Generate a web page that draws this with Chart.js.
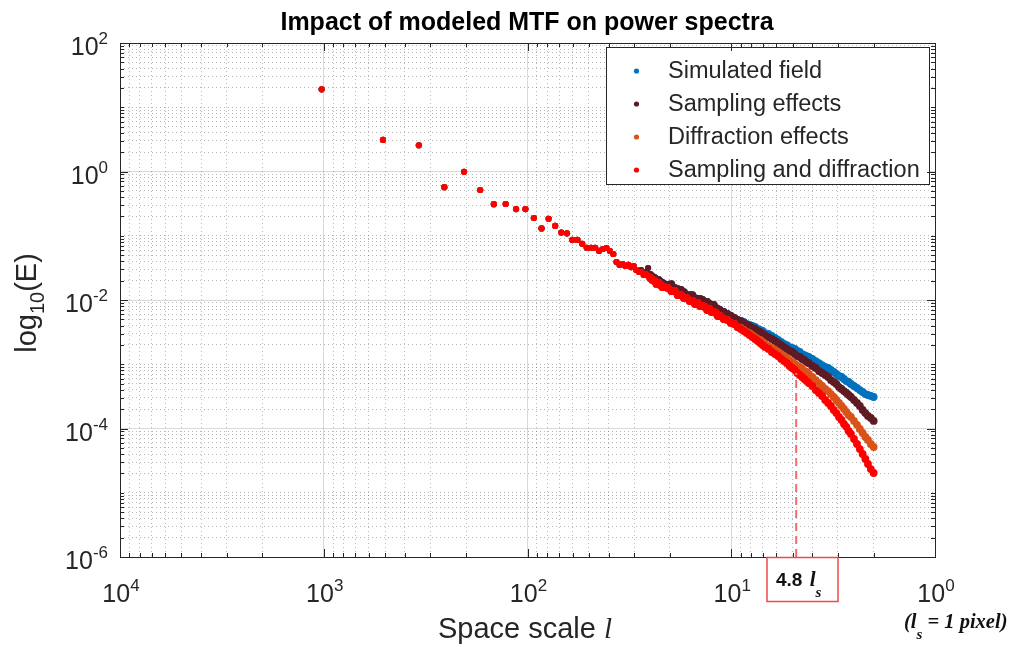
<!DOCTYPE html>
<html>
<head>
<meta charset="utf-8">
<script src="https://cdn.jsdelivr.net/npm/chart.js@4/dist/chart.umd.min.js"></script>
<style>
html,body{margin:0;padding:0;background:#ffffff;}
#wrap{width:1016px;height:647px;position:relative;}
</style>
</head>
<body>
<div id="wrap"><canvas id="c" width="1016" height="647"></canvas></div>
<script>
// ---------------- data ----------------
const chartTitle = 'Impact of modeled MTF on power spectra';
const seriesNames = ['Simulated field', 'Sampling effects', 'Diffraction effects', 'Sampling and diffraction'];
const seriesColors = ['#0072BD', '#5F1A24', '#D95319', '#FF0000'];

// space scale l (x values)
const spaceScale = [1024, 512, 341.3, 256, 204.8, 170.7, 146.3, 128, 113.8, 102.4,
  93.09, 85.33, 78.77, 73.14, 68.27, 64, 60.24, 56.89, 53.89, 51.2,
  48.76, 46.55, 44.52, 42.67, 40.96, 39.38, 37.93, 36.57, 35.31, 34.13,
  33.03, 32, 31.03, 30.12, 29.26, 28.44, 27.68, 26.95, 26.26, 25.6,
  24.98, 24.38, 23.81, 23.27, 22.76, 22.26, 21.79, 21.33,
  20.48, 19.69, 18.96, 18.29, 17.66, 17.07, 16.52, 16, 15.52, 15.06, 14.63, 14.22, 13.84, 13.47, 13.13, 12.8, 12.49, 12.19, 11.91, 11.64, 11.38,
  10.89, 10.45, 10.04, 9.66, 9.309, 8.982, 8.678, 8.393, 8.127, 7.877, 7.642, 7.42, 7.211, 7.014, 6.827,
  6.564, 6.321, 6.095, 5.885, 5.689, 5.505, 5.333, 5.172, 5.02, 4.876, 4.741, 4.613, 4.491, 4.376, 4.267, 4.163,
  4, 3.85, 3.71, 3.58, 3.459, 3.346, 3.241, 3.141, 3.048, 2.96, 2.876, 2.798, 2.723, 2.653, 2.586,
  2.498, 2.415, 2.338, 2.265, 2.197, 2.133, 2.065, 2];

// energy at large scales, identical for all four series
const sharedLargeScaleE = [19, 3.1, 2.56, 0.57, 0.99, 0.515, 0.31, 0.312, 0.26, 0.26,
  0.189, 0.13, 0.184, 0.142, 0.112, 0.109, 0.086, 0.086, 0.075, 0.065,
  0.065, 0.065, 0.058, 0.0622, 0.0645, 0.0579, 0.052, 0.039, 0.0351, 0.0363,
  0.0338, 0.0351, 0.0326, 0.0338, 0.0293];

const simulatedTail = [0.0283, 0.0293, 0.0263, 0.0273, 0.0315, 0.0245, 0.0228, 0.0220, 0.0205, 0.0205, 0.0191, 0.0184, 0.0177,
  0.0171, 0.0177, 0.0154, 0.0148, 0.0143, 0.0133, 0.0119, 0.0119, 0.0119, 0.0107, 0.0104, 0.0104, 0.0100, 0.00931, 0.00931, 0.00866, 0.00836, 0.00836, 0.00751, 0.00724, 0.00699,
  0.00651, 0.00606, 0.00564, 0.00525, 0.00488, 0.00471, 0.00455, 0.00423, 0.00408, 0.00394, 0.00380, 0.00354, 0.00341, 0.00329, 0.00306,
  0.00296, 0.00275, 0.00256, 0.00239, 0.00222, 0.00207, 0.00199, 0.00185, 0.00179, 0.00173, 0.00161, 0.00155, 0.00144, 0.00139, 0.00134, 0.00130,
  0.00121, 0.00112, 0.00104, 0.000970, 0.000906, 0.000874, 0.000814, 0.000757, 0.000705, 0.000656, 0.000633, 0.000589, 0.000548, 0.000529, 0.000493,
  0.000459, 0.000427, 0.000397, 0.000370, 0.000344, 0.000332, 0.000321, 0.000309];

const samplingTail = [0.0283, 0.0293, 0.0263, 0.0273, 0.0315, 0.0245, 0.0228, 0.0220, 0.0205, 0.0205, 0.0191, 0.0184, 0.0177,
  0.0171, 0.0177, 0.0154, 0.0148, 0.0143, 0.0133, 0.0119, 0.0119, 0.0119, 0.0107, 0.0104, 0.0104, 0.0100, 0.00931, 0.00931, 0.00866, 0.00836, 0.00836, 0.00751, 0.00724, 0.00699,
  0.00651, 0.00606, 0.00564, 0.00525, 0.00488, 0.00471, 0.00439, 0.00408, 0.00394, 0.00367, 0.00354, 0.00329, 0.00318, 0.00296, 0.00285,
  0.00265, 0.00247, 0.00230, 0.00214, 0.00199, 0.00185, 0.00173, 0.00161, 0.00155, 0.00144, 0.00134, 0.00130, 0.00121, 0.00116, 0.00108, 0.00104,
  0.000939, 0.000874, 0.000785, 0.000731, 0.000680, 0.000633, 0.000568, 0.000529, 0.000493, 0.000442, 0.000412, 0.000383, 0.000357, 0.000332, 0.000309,
  0.000278, 0.000250, 0.000224, 0.000194, 0.000174, 0.000157, 0.000146, 0.000131];

const diffractionTail = [0.0273, 0.0273, 0.0245, 0.0254, 0.0236, 0.0220, 0.0205, 0.0198, 0.0177, 0.0184, 0.0171, 0.0159, 0.0159,
  0.0154, 0.0138, 0.0138, 0.0119, 0.0119, 0.0107, 0.0107, 0.00965, 0.00965, 0.00866, 0.00898, 0.00807, 0.00807, 0.00778, 0.00699, 0.00724, 0.00651, 0.00651, 0.00628, 0.00564, 0.00564,
  0.00506, 0.00488, 0.00439, 0.00423, 0.00380, 0.00367, 0.00341, 0.00318, 0.00306, 0.00285, 0.00265, 0.00247, 0.00239, 0.00222, 0.00207,
  0.00192, 0.00179, 0.00167, 0.00155, 0.00144, 0.00134, 0.00125, 0.00116, 0.00108, 0.00101, 0.000939, 0.000906, 0.000843, 0.000785, 0.000757, 0.000705,
  0.000633, 0.000568, 0.000510, 0.000459, 0.000412, 0.000383, 0.000344, 0.000309, 0.000278, 0.000250, 0.000224, 0.000201, 0.000181, 0.000162, 0.000151,
  0.000131, 0.000114, 0.0000983, 0.0000852, 0.0000738, 0.0000662, 0.0000574, 0.0000515];

const combinedTail = [0.0273, 0.0273, 0.0245, 0.0254, 0.0236, 0.0220, 0.0205, 0.0198, 0.0177, 0.0184, 0.0171, 0.0159, 0.0159,
  0.0154, 0.0138, 0.0138, 0.0119, 0.0119, 0.0107, 0.0107, 0.00965, 0.00965, 0.00866, 0.00898, 0.00807, 0.00807, 0.00778, 0.00699, 0.00724, 0.00651, 0.00651, 0.00628, 0.00564, 0.00564,
  0.00506, 0.00488, 0.00439, 0.00423, 0.00380, 0.00354, 0.00329, 0.00306, 0.00285, 0.00265, 0.00247, 0.00230, 0.00214, 0.00199, 0.00185,
  0.00173, 0.00155, 0.00144, 0.00134, 0.00121, 0.00112, 0.00104, 0.000939, 0.000874, 0.000814, 0.000731, 0.000680, 0.000633, 0.000589, 0.000548, 0.000510,
  0.000459, 0.000397, 0.000357, 0.000321, 0.000278, 0.000250, 0.000224, 0.000194, 0.000174, 0.000151, 0.000136, 0.000118, 0.000106, 0.0000915, 0.0000822,
  0.0000686, 0.0000574, 0.0000479, 0.0000401, 0.0000335, 0.0000280, 0.0000234, 0.0000203];

const simulatedField = [...sharedLargeScaleE, ...simulatedTail];
const samplingEffects = [...sharedLargeScaleE, ...samplingTail];
const diffractionEffects = [...sharedLargeScaleE, ...diffractionTail];
const samplingAndDiffraction = [...sharedLargeScaleE, ...combinedTail];
const seriesValues = [simulatedField, samplingEffects, diffractionEffects, samplingAndDiffraction];

// cutoff marker (4.8 l_s)
const cutoffScale = [4.8, 4.8];
const cutoffE = [1e-6, 7.3e-4];
const cutoffLabel = ['4.8 ', 'l', 's'];
const pixelNote = ['(', 'l', 's', ' = 1 pixel)'];

// axes
const xTickValues = [1e4, 1e3, 1e2, 1e1, 1];
const xTickLabels = ['10^4', '10^3', '10^2', '10^1', '10^0'];
const yTickValues = [1e2, 1, 1e-2, 1e-4, 1e-6];
const yTickLabels = ['10^2', '10^0', '10^-2', '10^-4', '10^-6'];
const xTitle = ['Space scale ', 'l'];
const yTitle = ['log', '10', '(E)'];

// ---------------- helpers ----------------
const SANS = '"Liberation Sans", Arial, Helvetica, sans-serif';
const SERIF = '"Liberation Serif", "Times New Roman", serif';
const TXT = '#262626';

function decadeGrid(lo, hi) {
  const out = [];
  for (let e = lo; e < hi; e++) {
    for (let m = 1; m < 10; m++) out.push(m * Math.pow(10, e));
  }
  out.push(Math.pow(10, hi));
  return out;
}
function isDecade(v) {
  const l = Math.log10(v);
  return Math.abs(l - Math.round(l)) < 1e-9;
}
function isMajorX(v) { return isDecade(v); }
function isMajorY(v) { return isDecade(v) && Math.round(Math.log10(v)) % 2 === 0; }

const datasets = seriesNames.map((name, i) => ({
  type: 'scatter',
  label: name,
  data: spaceScale.map((l, j) => ({ x: l, y: seriesValues[i][j] })),
  backgroundColor: seriesColors[i],
  borderColor: seriesColors[i],
  borderWidth: 0,
  pointRadius: c => (c.dataIndex < 40 ? 3.1 : 3.9),
  pointHoverRadius: 3,
  order: 4 - i
}));
datasets.push({
  type: 'line',
  label: 'cutoff',
  data: cutoffScale.map((l, j) => ({ x: l, y: cutoffE[j] })),
  borderColor: '#F26B6B',
  borderWidth: 2,
  borderDash: [8, 5],
  pointRadius: 0,
  fill: false,
  order: 0
});

function drawPower(ctx, label, x, y, align, baseSize, expSize, rise) {
  const parts = label.split('^');
  ctx.font = baseSize + 'px ' + SANS;
  const wb = ctx.measureText(parts[0]).width;
  ctx.font = expSize + 'px ' + SANS;
  const we = ctx.measureText(parts[1]).width;
  const total = wb + we;
  let left = x;
  if (align === 'right') left = x - total;
  else if (align === 'center') left = x - total / 2;
  ctx.textAlign = 'left';
  ctx.textBaseline = 'alphabetic';
  ctx.fillStyle = TXT;
  ctx.font = baseSize + 'px ' + SANS;
  ctx.fillText(parts[0], left, y);
  ctx.font = expSize + 'px ' + SANS;
  ctx.fillText(parts[1], left + wb, y - rise);
}

const decorPlugin = {
  id: 'decor',
  afterDraw(chart) {
    const ctx = chart.ctx;
    const a = chart.chartArea;
    const xs = chart.scales.x, ys = chart.scales.y;
    ctx.save();

    // legend box
    const lx = 606.5, ly = 47.5, lw = 323, lh = 137;
    ctx.fillStyle = '#ffffff';
    ctx.fillRect(lx, ly, lw, lh);
    ctx.strokeStyle = '#262626';
    ctx.lineWidth = 1;
    ctx.strokeRect(lx, ly, lw, lh);
    seriesNames.forEach((name, i) => {
      const cy = 71 + i * 33;
      ctx.fillStyle = seriesColors[i];
      ctx.beginPath();
      ctx.arc(636.5, cy, 2.6, 0, Math.PI * 2);
      ctx.fill();
      ctx.fillStyle = TXT;
      ctx.font = '23.5px ' + SANS;
      ctx.textAlign = 'left';
      ctx.textBaseline = 'middle';
      ctx.fillText(name, 668, cy + 1);
    });

    // axes box
    ctx.strokeStyle = '#262626';
    ctx.lineWidth = 1;
    ctx.strokeRect(Math.round(a.left) + 0.5, Math.round(a.top) + 0.5,
      Math.round(a.right - a.left), Math.round(a.bottom - a.top));

    // inward ticks
    ctx.beginPath();
    xs.ticks.forEach(t => {
      const px = Math.round(xs.getPixelForValue(t.value)) + 0.5;
      const len = isMajorX(t.value) ? 8 : 4;
      ctx.moveTo(px, a.bottom); ctx.lineTo(px, a.bottom - len);
      ctx.moveTo(px, a.top); ctx.lineTo(px, a.top + len);
    });
    ys.ticks.forEach(t => {
      const py = Math.round(ys.getPixelForValue(t.value)) + 0.5;
      const len = isMajorY(t.value) ? 8 : 4;
      ctx.moveTo(a.left, py); ctx.lineTo(a.left + len, py);
      ctx.moveTo(a.right, py); ctx.lineTo(a.right - len, py);
    });
    ctx.stroke();

    // tick labels
    xTickValues.forEach((v, i) => {
      drawPower(ctx, xTickLabels[i], xs.getPixelForValue(v) + 1, 602, 'center', 25, 17, 11);
    });
    yTickValues.forEach((v, i) => {
      drawPower(ctx, yTickLabels[i], 108, ys.getPixelForValue(v) + 12, 'right', 25, 17, 11);
    });

    // x title
    ctx.fillStyle = TXT;
    ctx.textBaseline = 'alphabetic';
    ctx.textAlign = 'left';
    ctx.font = '29px ' + SANS;
    const w1 = ctx.measureText(xTitle[0]).width;
    ctx.font = 'italic 29px ' + SERIF;
    const w2 = ctx.measureText(xTitle[1]).width;
    let sx = 525 - (w1 + w2) / 2;
    ctx.font = '29px ' + SANS;
    ctx.fillText(xTitle[0], sx, 638);
    ctx.font = 'italic 29px ' + SERIF;
    ctx.fillText(xTitle[1], sx + w1, 638);

    // y title (rotated)
    ctx.save();
    ctx.translate(36, 303);
    ctx.rotate(-Math.PI / 2);
    ctx.font = '29px ' + SANS;
    const t1 = ctx.measureText(yTitle[0]).width;
    const t3 = ctx.measureText(yTitle[2]).width;
    ctx.font = '20px ' + SANS;
    const t2 = ctx.measureText(yTitle[1]).width;
    let tx = -(t1 + t2 + t3) / 2;
    ctx.font = '29px ' + SANS;
    ctx.fillText(yTitle[0], tx, 0);
    ctx.font = '20px ' + SANS;
    ctx.fillText(yTitle[1], tx + t1, 8);
    ctx.font = '29px ' + SANS;
    ctx.fillText(yTitle[2], tx + t1 + t2, 0);
    ctx.restore();

    // chart title
    ctx.fillStyle = '#000000';
    ctx.font = 'bold 25px ' + SANS;
    ctx.textAlign = 'center';
    ctx.fillText(chartTitle, 527, 30);

    // cutoff annotation box
    ctx.strokeStyle = '#F04848';
    ctx.lineWidth = 1.5;
    ctx.strokeRect(767, 557.5, 71, 44);
    ctx.fillStyle = '#111111';
    ctx.textAlign = 'left';
    ctx.font = 'bold 19px ' + SANS;
    ctx.fillText(cutoffLabel[0], 776, 586);
    const c0 = ctx.measureText(cutoffLabel[0]).width;
    ctx.font = 'bold italic 21px ' + SERIF;
    ctx.fillText(cutoffLabel[1], 776 + c0 + 2, 586);
    const c1 = ctx.measureText(cutoffLabel[1]).width;
    ctx.font = 'bold italic 15px ' + SERIF;
    ctx.fillText(cutoffLabel[2], 776 + c0 + 2 + c1, 597);

    // pixel note
    ctx.fillStyle = '#111111';
    let px = 904;
    ctx.font = 'bold italic 20.5px ' + SERIF;
    ctx.fillText(pixelNote[0], px, 628); px += ctx.measureText(pixelNote[0]).width;
    ctx.fillText(pixelNote[1], px, 628); px += ctx.measureText(pixelNote[1]).width;
    ctx.font = 'bold italic 15px ' + SERIF;
    ctx.fillText(pixelNote[2], px, 639); px += ctx.measureText(pixelNote[2]).width;
    ctx.font = 'bold italic 20.5px ' + SERIF;
    ctx.fillText(pixelNote[3], px, 628);

    ctx.restore();
  }
};

new Chart(document.getElementById('c'), {
  type: 'scatter',
  data: { datasets },
  options: {
    responsive: false,
    animation: false,
    events: [],
    layout: { padding: { left: 120, right: 81, top: 43, bottom: 90 } },
    plugins: { legend: { display: false }, tooltip: { enabled: false }, title: { display: false } },
    scales: {
      x: {
        type: 'logarithmic',
        reverse: true,
        min: 1,
        max: 10000,
        afterBuildTicks: s => { s.ticks = decadeGrid(0, 4).map(v => ({ value: v, major: isMajorX(v) })); },
        ticks: { display: false },
        grid: {
          drawTicks: false,
          lineWidth: 1,
          color: c => (c.tick && isMajorX(c.tick.value)) ? 'rgba(0,0,0,0.15)' : 'rgba(0,0,0,0.28)'
        },
        border: {
          display: false,
          dash: c => (c.tick && isMajorX(c.tick.value)) ? [] : [1, 3]
        }
      },
      y: {
        type: 'logarithmic',
        min: 1e-6,
        max: 1e2,
        afterBuildTicks: s => { s.ticks = decadeGrid(-6, 2).map(v => ({ value: v, major: isMajorY(v) })); },
        ticks: { display: false },
        grid: {
          drawTicks: false,
          lineWidth: 1,
          color: c => (c.tick && isMajorY(c.tick.value)) ? 'rgba(0,0,0,0.15)' : 'rgba(0,0,0,0.28)'
        },
        border: {
          display: false,
          dash: c => (c.tick && isMajorY(c.tick.value)) ? [] : [1, 3]
        }
      }
    }
  },
  plugins: [decorPlugin]
});
</script>
</body>
</html>
